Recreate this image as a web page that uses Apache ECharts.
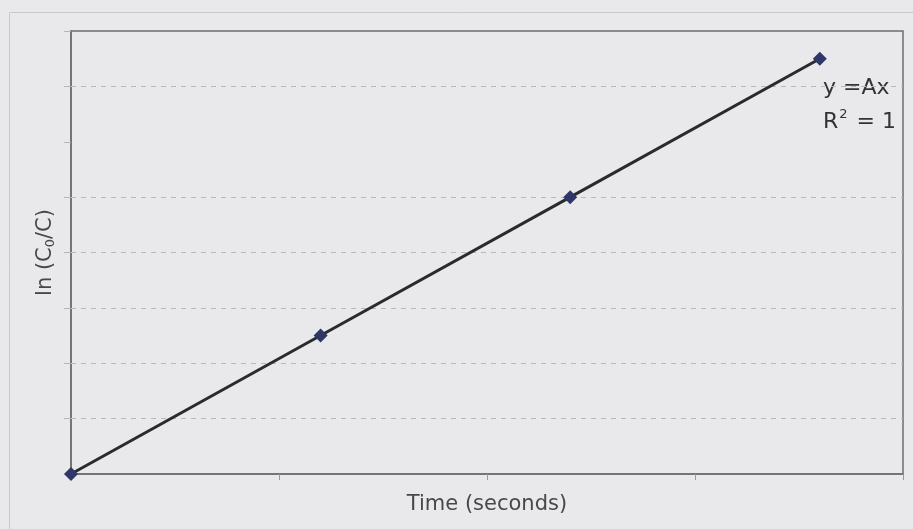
<!DOCTYPE html>
<html><head><meta charset="utf-8">
<script src="https://cdn.jsdelivr.net/npm/echarts@6/dist/echarts.min.js"></script>
<style>html,body{margin:0;padding:0;background:#e9e9eb;}#c{width:913px;height:529px;}</style>
</head><body><div id="c"></div>
<script>
const timeValues = [0, 30, 60, 90];
const lnValues = [0, 2.5, 5, 7.5];
const gridValues = [1, 2, 3, 4, 5, 7];
const xTitle = 'Time (seconds)';
const eqLine1 = 'y =Ax';

const chart = echarts.init(document.getElementById('c'));
const font = '"DejaVu Sans", sans-serif';
chart.setOption({
  backgroundColor: '#e9e9eb',
  animation: false,
  graphic: [
    {type: 'rect', left: 7, top: 10, shape: {width: 1000, height: 1000}, style: {fill: 'none', stroke: '#c9c9cc', lineWidth: 1}, z: -1},
    {type: 'text', left: 823, top: 77, style: {text: eqLine1, font: '22px ' + font, fill: '#333335'}},
    {type: 'text', left: 823, top: 108, style: {text: '{n|R}{s|2}{n| = 1}', rich: {n: {font: '22px ' + font, fill: '#333335', verticalAlign: 'bottom'}, s: {font: '13px ' + font, fill: '#333335', verticalAlign: 'top', padding: [0,2,12,1]}}, font: '22px ' + font, fill: '#333335'}}
  ],
  grid: {left: 71, right: 10, top: 31, bottom: 55, show: true, borderColor: '#6d6d70', borderWidth: 1.5, backgroundColor: 'transparent'},
  xAxis: {
    type: 'value', min: 0, max: 100, interval: 25,
    name: xTitle, nameLocation: 'middle', nameGap: 20,
    nameTextStyle: {fontSize: 21, color: '#48484a', fontFamily: font},
    axisLine: {lineStyle: {color: '#6d6d70', width: 1.5}},
    axisTick: {show: true, length: 6, lineStyle: {color: '#9a9a9d'}},
    axisLabel: {show: false},
    splitLine: {show: false}
  },
  yAxis: {
    type: 'value', min: 0, max: 8, interval: 1,
    name: 'ln (C{sub|0}/C)', nameLocation: 'middle', nameGap: 14,
    nameTextStyle: {fontSize: 21, color: '#48484a', fontFamily: font, rich: {sub: {fontSize: 13, color: '#48484a', fontFamily: font, verticalAlign: 'bottom', padding: [9,0,0,0]}}},
    axisLine: {show: true, lineStyle: {color: '#6d6d70', width: 1.5}},
    axisTick: {show: true, length: 7, lineStyle: {color: '#b5b5b8'}},
    axisLabel: {show: false},
    splitLine: {show: false}
  },
  series: [{
    type: 'line',
    data: timeValues.map((t, i) => [t, lnValues[i]]),
    symbol: 'diamond', symbolSize: 14,
    itemStyle: {color: '#2f3668'},
    lineStyle: {color: '#2b2b2d', width: 3},
    z: 5,
    markLine: {
      silent: true, symbol: 'none', label: {show: false},
      lineStyle: {type: [5, 5], color: '#b8b8bb', width: 1},
      data: gridValues.map(v => ({yAxis: v}))
    }
  }]
});
</script></body></html>
